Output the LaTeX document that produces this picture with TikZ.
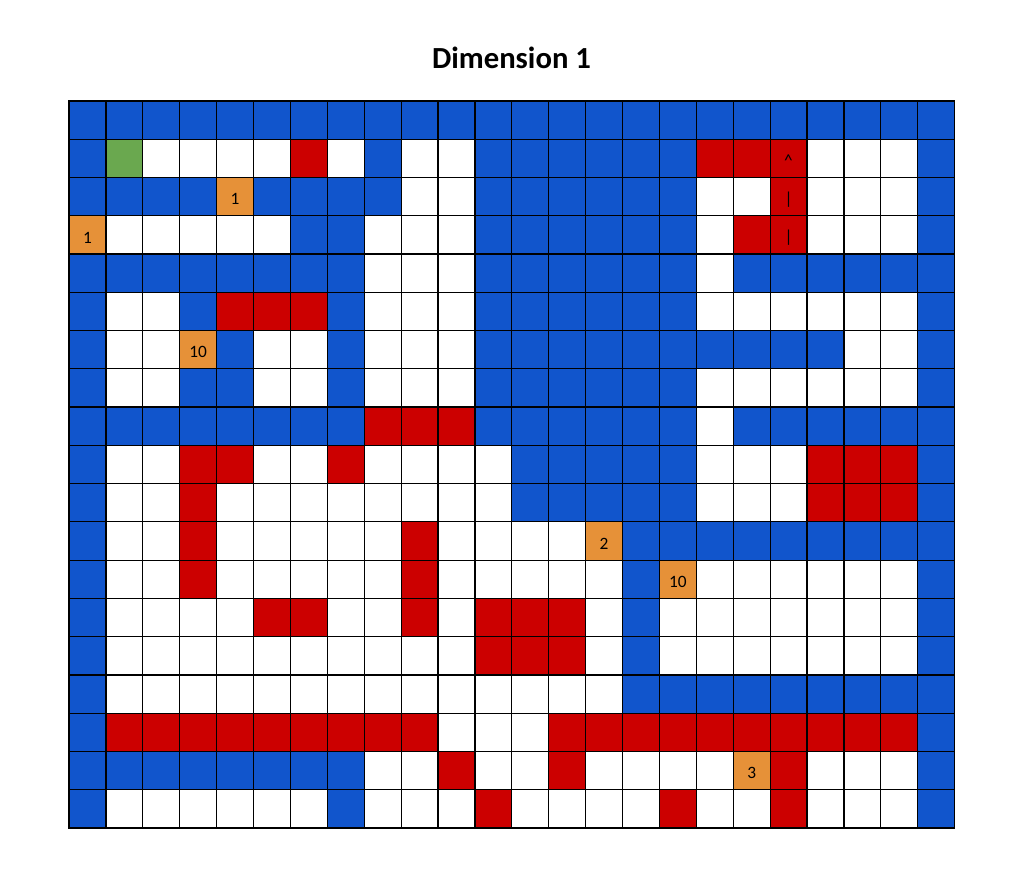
\documentclass[tikz,border=0pt]{standalone}
\usepackage{fontspec}
\setmainfont{Carlito}

% sheet colours
\definecolor{b}{HTML}{1155CC}
\definecolor{w}{HTML}{FFFFFF}
\definecolor{r}{HTML}{CC0000}
\definecolor{g}{HTML}{6AA84F}
\definecolor{o}{HTML}{E69138}

\begin{document}
\begin{tikzpicture}[
  x=0.75pt, y=-0.75pt,
  cell/.style={draw=black, line width=0.9pt, minimum width=27.675pt, minimum height=28.695pt, inner sep=0pt},
  lab/.style={font=\fontsize{13}{15}\selectfont, yshift=-2pt}
]
\useasboundingbox (0,0) rectangle (1025,895);

\node[font=\fontsize{23}{28}\selectfont\bfseries, anchor=base] (title) at (511.5,69) {Dimension 1};

% one line per row, one letter per cell
\foreach \cells [count=\r from 0] in {
  {b,b,b,b,b,b,b,b,b,b,b,b,b,b,b,b,b,b,b,b,b,b,b,b},
  {b,g,w,w,w,w,r,w,b,w,w,b,b,b,b,b,b,r,r,r,w,w,w,b},
  {b,b,b,b,o,b,b,b,b,w,w,b,b,b,b,b,b,w,w,r,w,w,w,b},
  {o,w,w,w,w,w,b,b,w,w,w,b,b,b,b,b,b,w,r,r,w,w,w,b},
  {b,b,b,b,b,b,b,b,w,w,w,b,b,b,b,b,b,w,b,b,b,b,b,b},
  {b,w,w,b,r,r,r,b,w,w,w,b,b,b,b,b,b,w,w,w,w,w,w,b},
  {b,w,w,o,b,w,w,b,w,w,w,b,b,b,b,b,b,b,b,b,b,w,w,b},
  {b,w,w,b,b,w,w,b,w,w,w,b,b,b,b,b,b,w,w,w,w,w,w,b},
  {b,b,b,b,b,b,b,b,r,r,r,b,b,b,b,b,b,w,b,b,b,b,b,b},
  {b,w,w,r,r,w,w,r,w,w,w,w,b,b,b,b,b,w,w,w,r,r,r,b},
  {b,w,w,r,w,w,w,w,w,w,w,w,b,b,b,b,b,w,w,w,r,r,r,b},
  {b,w,w,r,w,w,w,w,w,r,w,w,w,w,o,b,b,b,b,b,b,b,b,b},
  {b,w,w,r,w,w,w,w,w,r,w,w,w,w,w,b,o,w,w,w,w,w,w,b},
  {b,w,w,w,w,r,r,w,w,r,w,r,r,r,w,b,w,w,w,w,w,w,w,b},
  {b,w,w,w,w,w,w,w,w,w,w,r,r,r,w,b,w,w,w,w,w,w,w,b},
  {b,w,w,w,w,w,w,w,w,w,w,w,w,w,w,b,b,b,b,b,b,b,b,b},
  {b,r,r,r,r,r,r,r,r,r,w,w,w,r,r,r,r,r,r,r,r,r,r,b},
  {b,b,b,b,b,b,b,b,w,w,r,w,w,r,w,w,w,w,o,r,w,w,w,b},
  {b,w,w,w,w,w,w,b,w,w,w,r,w,w,w,w,r,w,w,r,w,w,w,b}%
}{
  \foreach \k [count=\c from 0] in \cells
    \node[cell, fill=\k] (c-\r-\c) at ({87.45+36.9*\c}, {120.13+38.26*\r}) {};
}

% cell texts
\node[lab] (up)    at (c-1-19)  {\textasciicircum};
\node[lab] (bar-a) at (c-2-19)  {\textbar};
\node[lab] (bar-b) at (c-3-19)  {\textbar};
\node[lab] (val-a) at (c-2-4)   {1};
\node[lab] (val-b) at (c-3-0)   {1};
\node[lab] (val-c) at (c-6-3)   {10};
\node[lab] (val-d) at (c-11-14) {2};
\node[lab] (val-e) at (c-12-16) {10};
\node[lab] (val-f) at (c-17-18) {3};
\end{tikzpicture}
\end{document}
